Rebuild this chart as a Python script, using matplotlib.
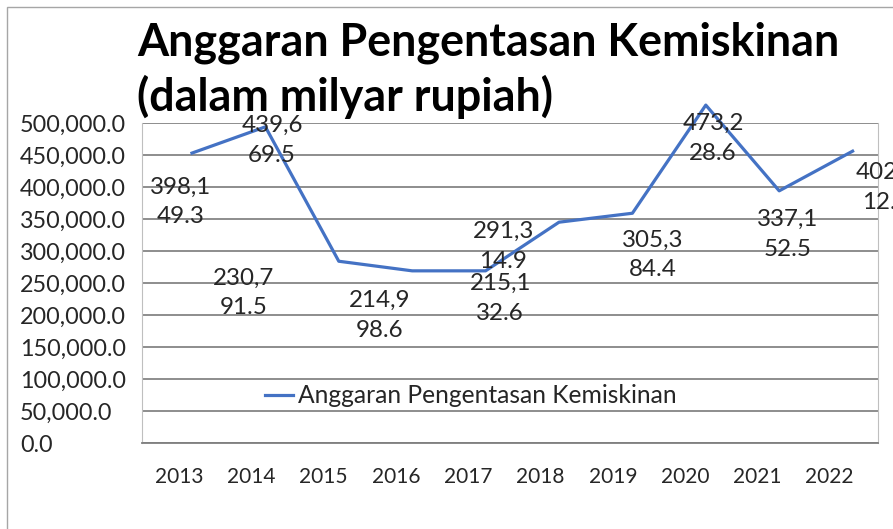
#Anggaran Pengentasan Kemiskinan (line chart)

import numpy as np
import matplotlib.pyplot as plt
from matplotlib.patches import Rectangle

#Data
years = ['2013', '2014', '2015', '2016', '2017', '2018', '2019', '2020', '2021', '2022']
anggaran = [453000, 494000, 284000, 269000, 269000, 345000, 359000, 528000, 394000, 456000]
label_text = ['398,1\n49.3', '439,6\n69.5', '230,7\n91.5', '214,9\n98.6', '215,1\n32.6',
              '291,3\n14.9', '305,3\n84.4', '473,2\n28.6', '337,1\n52.5', '402,1\n12.5']
y_ticks = np.arange(0, 500001, 50000)

#Posisi label (layout)
label_x = [-0.16, 1.09, 0.70, 2.56, 4.20, 4.24, 6.28, 7.10, 8.11, 9.46]
label_y = [376600, 472700, 234400, 199200, 225800, 307000, 293700, 475800, 325800, 399200]

plt.rcParams['font.family'] = ['Lato', 'DejaVu Sans']

fig = plt.figure(figsize=(8.93, 5.29), dpi=100)
ax = fig.add_axes([142/893, 86/529, 736/893, 320/529])

#Bingkai chart
fig.patches.append(Rectangle((7/893, -0.1), 1.2, (529-7)/529 + 0.1, transform=fig.transFigure,
                             fill=False, edgecolor='#a6a6a6', linewidth=1))

x = np.arange(len(years))
ax.plot(x, anggaran, color='#4472C4', linewidth=2.3, clip_on=False, zorder=3,
        label='Anggaran Pengentasan Kemiskinan')

for t, lx, ly in zip(label_text, label_x, label_y):
    ax.text(lx, ly, t, ha='center', va='center', fontsize=17.4, color='#262626',
            linespacing=1.5, zorder=4)

ax.set_xlim(-0.681, 9.346)
ax.set_ylim(0, 500000)
ax.set_yticks(y_ticks)
ax.set_yticklabels(['{:,.1f}'.format(v) for v in y_ticks], fontsize=16.8, color='#262626')
for lab in ax.get_yticklabels():
    lab.set_horizontalalignment('left')
ax.tick_params(axis='y', length=0, pad=88)

ax.set_xticks(-0.177 + 0.985 * x)
ax.set_xticklabels(years, fontsize=15, color='#262626')
ax.tick_params(axis='x', length=0, pad=17)

ax.grid(axis='y', color='#858585', linewidth=1.3)
ax.set_axisbelow(True)
ax.spines['top'].set_visible(False)
ax.spines['left'].set_color('#bfbfbf')
ax.spines['right'].set_color('#bfbfbf')
ax.spines['bottom'].set_color('#7f7f7f')
ax.spines['bottom'].set_linewidth(1.3)

ax.legend(loc='center left', bbox_to_anchor=(0.167, 0.147), frameon=False, fontsize=17.7,
          handlelength=1.15, handletextpad=0.2, borderpad=0, borderaxespad=0,
          labelcolor='#262626')

fig.text(137/893, 1 - 21/529, 'Anggaran Pengentasan Kemiskinan\n(dalam milyar rupiah)',
         ha='left', va='top', fontsize=32.3, fontweight='bold', color='black', linespacing=1.32)

plt.savefig('out.png', dpi=100)
